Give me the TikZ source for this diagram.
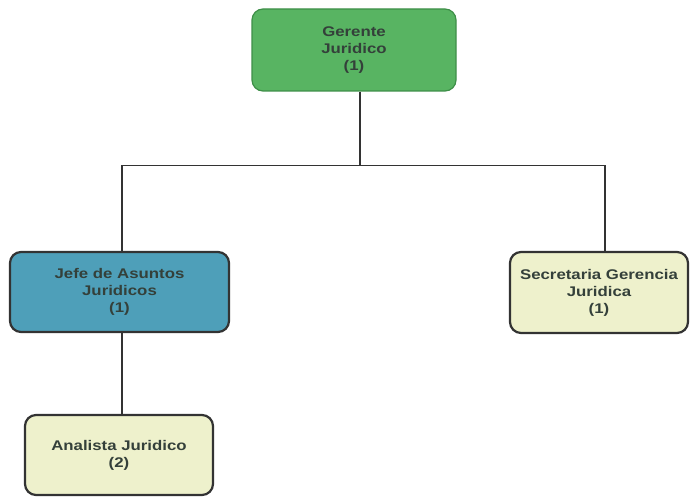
\documentclass[tikz,border=0pt]{standalone}
\usepackage{fontspec}
\newfontfamily\orgfont[FakeStretch=1.2]{Liberation Sans}
\usepackage{tikz}
\usetikzlibrary{positioning}
\definecolor{gergreen}{HTML}{58B462}
\definecolor{gerline}{HTML}{3E8F48}
\definecolor{jefblue}{HTML}{4E9FB9}
\definecolor{paleyel}{HTML}{EEF1CC}
\definecolor{boxline}{HTML}{333333}
\definecolor{txtgrey}{HTML}{34403A}

\tikzset{
	cargo/.style={rounded corners=11pt, line width=2.2pt, draw=boxline, align=center,
		inner sep=0pt, text=txtgrey, font=\orgfont\bfseries\fontsize{14}{17}\selectfont},
	link/.style={line width=1.7pt, draw=boxline}
}

\begin{document}
\begin{tikzpicture}[x=1pt,y=-1pt]
		\useasboundingbox (0,0) rectangle (692,497);
		\node[cargo, fill=gergreen, draw=gerline, line width=1.2pt, minimum width=204pt, minimum height=82pt] (ger) at (354,50) {Gerente\\Juridico\\(1)};
		\node[cargo, fill=jefblue, minimum width=219pt, minimum height=80pt] (jefe) at (119.5,292) {Jefe de Asuntos\\Juridicos\\(1)};
		\node[cargo, fill=paleyel, minimum width=178pt, minimum height=81pt] (sec) at (599,292.5) {Secretaria Gerencia\\Juridica\\(1)};
		\node[cargo, fill=paleyel, minimum width=188pt, minimum height=80pt] (ana) at (119,455) {Analista Juridico\\(2)};
		% lineas de mando
		\draw[link] ([xshift=6pt]ger.south) -- ++(0,74) coordinate (hub);
		\draw[link] ([xshift=2.5pt]jefe.north) |- (hub) -| ([xshift=6pt]sec.north);
		\draw[link] ([xshift=2.5pt]jefe.south) -- ([xshift=2.5pt]jefe.south |- ana.north);
	\end{tikzpicture}
\end{document}
